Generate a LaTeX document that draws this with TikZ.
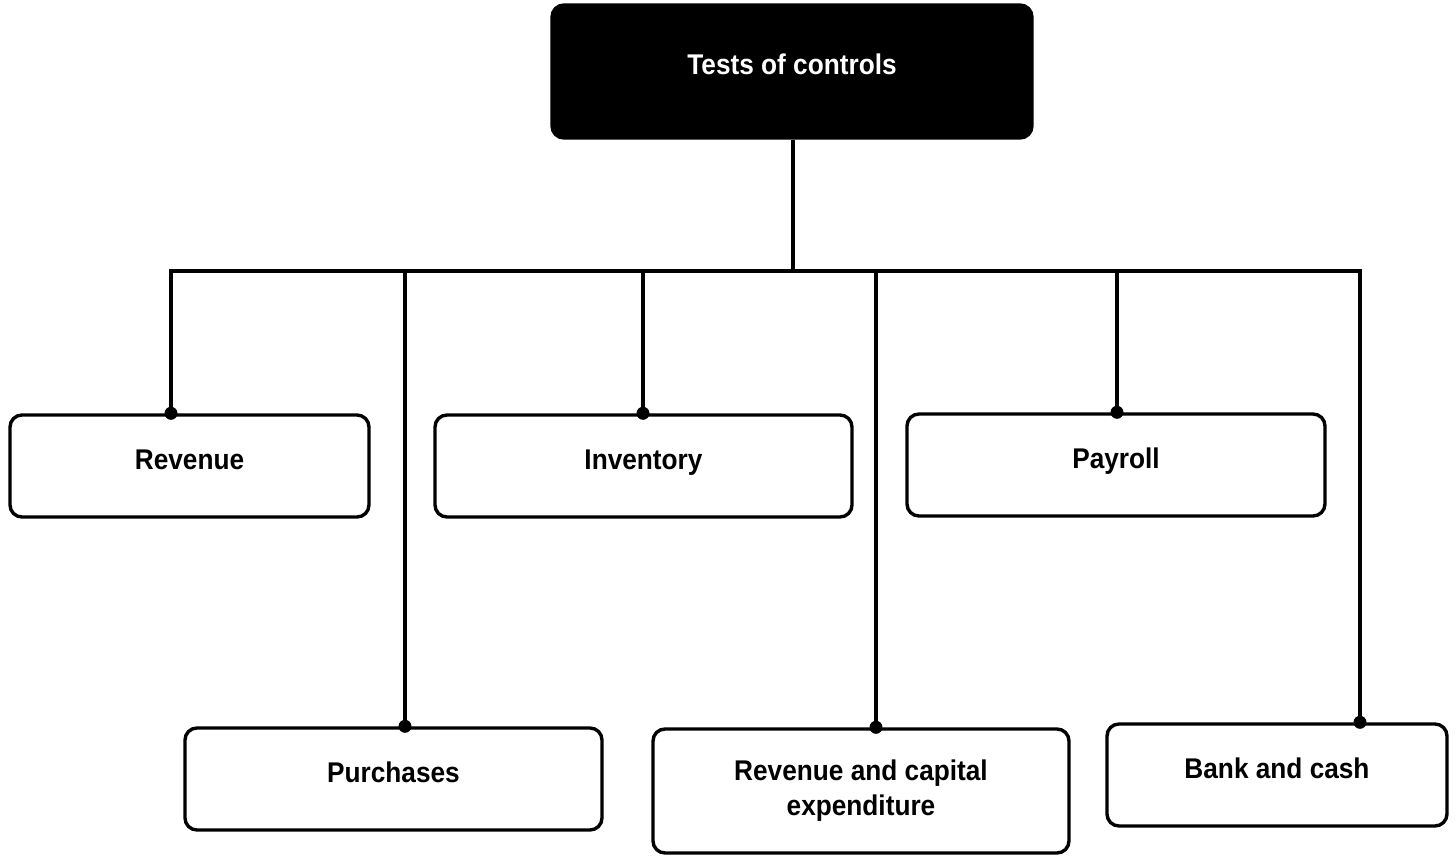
\documentclass[tikz,border=0pt]{standalone}
\usepackage{fontspec}
\setmainfont{Liberation Sans}[FakeStretch=0.92]
\begin{document}
\begin{tikzpicture}[x=1pt,y=-1pt,
  box/.style={draw, rounded corners=12pt, line width=3.4pt, fill=white,
    font=\bfseries\fontsize{28.5}{35}\selectfont, align=center, inner sep=0pt},
  lifted/.style={text height=21pt, text depth=14pt},
  topbox/.style={box, lifted, fill=black, text=white},
  link/.style={line width=3.6pt, line join=miter},
  jdot/.style={fill=black}]
\useasboundingbox (0,0) rectangle (1456,856);
\node[topbox, minimum width=480pt, minimum height=133pt] (top) at (792,71.5) {Tests of controls};
\node[box, lifted, minimum width=359pt, minimum height=102pt] (rev) at (189.5,466) {Revenue};
\node[box, lifted, minimum width=417pt, minimum height=102pt] (pur) at (393.5,779) {Purchases};
\node[box, lifted, minimum width=417pt, minimum height=102pt] (inv) at (643.5,466) {Inventory};
\node[box, minimum width=416pt, minimum height=124pt] (cap) at (861,791) {Revenue and capital\\expenditure};
\node[box, lifted, minimum width=418pt, minimum height=102pt] (pay) at (1116,465) {Payroll};
\node[box, lifted, minimum width=340pt, minimum height=102pt] (bank) at (1277,775) {Bank and cash};
\coordinate (j0) at (793,271);
\coordinate (j1) at (171,271);
\coordinate (j2) at (405,271);
\coordinate (j3) at (643,271);
\coordinate (j4) at (876,271);
\coordinate (j5) at (1117,271);
\coordinate (j6) at (1360,271);
\draw[link] (top.south -| j0) -- (j0);
\draw[link] (j1 |- rev.north) -- (j1) -- (j6) -- (j6 |- bank.north);
\draw[link] (j2) -- (j2 |- pur.north);
\draw[link] (j3) -- (j3 |- inv.north);
\draw[link] (j4) -- (j4 |- cap.north);
\draw[link] (j5) -- (j5 |- pay.north);
\fill[jdot] (j1 |- rev.north) circle (6.5);
\fill[jdot] (j2 |- pur.north) circle (6.5);
\fill[jdot] (j3 |- inv.north) circle (6.5);
\fill[jdot] (j4 |- cap.north) circle (6.5);
\fill[jdot] (j5 |- pay.north) circle (6.5);
\fill[jdot] (j6 |- bank.north) circle (6.5);
\end{tikzpicture}
\end{document}
